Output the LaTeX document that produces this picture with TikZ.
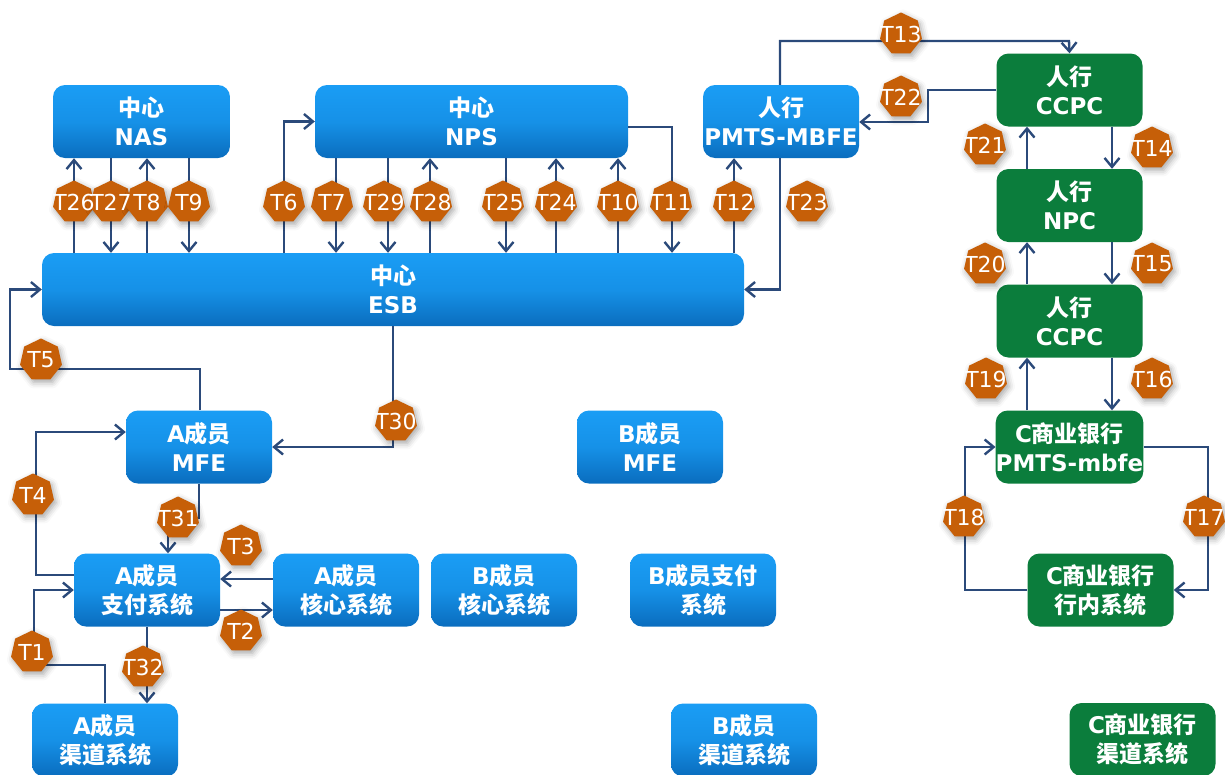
\documentclass[tikz,border=0pt]{standalone}
\usepackage{fontspec}
\usepackage{xcolor}
\usetikzlibrary{arrows.meta,shapes.geometric,shadows.blur}
\setmainfont{DejaVu Sans}
\newfontfamily\cjk{Noto Sans CJK SC Bold}
\newcommand{\zh}[1]{{\cjk #1}}
\definecolor{linecol}{HTML}{2B4A7A}
\definecolor{heptcol}{HTML}{C65F08}
\definecolor{boxtop}{HTML}{1A9DF5}
\definecolor{boxbot}{HTML}{0A6DBE}
\definecolor{boxgreen}{HTML}{0B7D3C}
\tikzset{
  basebox/.style={rounded corners=12pt,minimum width=146pt,minimum height=73pt,inner sep=0pt,
    align=center,text=white,font=\fontsize{23}{29}\selectfont\bfseries},
  bluebox/.style={basebox,top color=boxtop,bottom color=boxbot,middle color=boxtop!75!boxbot},
  greenbox/.style={basebox,fill=boxgreen},
  flow/.style={draw=linecol,line width=2.4pt,->,>={Straight Barb[length=9pt,width=15pt]}},
  hept/.style={regular polygon,regular polygon sides=7,minimum size=43pt,inner sep=0pt,fill=heptcol,
    blur shadow={shadow xshift=2pt,shadow yshift=-3pt,shadow blur radius=6pt,shadow opacity=35}},
  hepttext/.style={inner sep=0pt,text=white,font=\fontsize{22}{22}\selectfont}
}

\begin{document}
\begin{tikzpicture}[x=1pt,y=-1pt]
\useasboundingbox (0,0) rectangle (1225,774);

\node[bluebox,minimum width=177pt] (nas) at (141.5,121.5) {\zh{中心}\\NAS};
\node[bluebox,minimum width=313pt] (nps) at (471.5,121.5) {\zh{中心}\\NPS};
\node[bluebox,minimum width=156pt] (pmts) at (781,121.5) {\zh{人行}\\PMTS-MBFE};
\node[bluebox,minimum width=702pt] (esb) at (393,289.5) {\zh{中心}\\ESB};
\node[bluebox] (amfe) at (199,447) {A\zh{成员}\\MFE};
\node[bluebox] (bmfe) at (650,447) {B\zh{成员}\\MFE};
\node[bluebox] (apay) at (147,590) {A\zh{成员}\\\zh{支付系统}};
\node[bluebox] (acore) at (346,590) {A\zh{成员}\\\zh{核心系统}};
\node[bluebox] (bcore) at (504,590) {B\zh{成员}\\\zh{核心系统}};
\node[bluebox] (bpay) at (703,590) {B\zh{成员支付}\\\zh{系统}};
\node[bluebox] (achan) at (105,740) {A\zh{成员}\\\zh{渠道系统}};
\node[bluebox] (bchan) at (744,740) {B\zh{成员}\\\zh{渠道系统}};
\node[greenbox] (ccpca) at (1069.5,90) {\zh{人行}\\CCPC};
\node[greenbox] (npc) at (1069.5,205.5) {\zh{人行}\\NPC};
\node[greenbox] (ccpcb) at (1069.5,321) {\zh{人行}\\CCPC};
\node[greenbox] (cmbfe) at (1069.5,447) {C\zh{商业银行}\\PMTS-mbfe};
\node[greenbox] (cin) at (1100.5,590) {C\zh{商业银行}\\\zh{行内系统}};
\node[greenbox] (cchan) at (1142.5,739.5) {C\zh{商业银行}\\\zh{渠道系统}};

\foreach \x/\a/\b in {74/esb.north/nas.south,111/nas.south/esb.north,147/esb.north/nas.south,189/nas.south/esb.north,
  336/nps.south/esb.north,388/nps.south/esb.north,430/esb.north/nps.south,506/nps.south/esb.north,
  556/esb.north/nps.south,618/esb.north/nps.south,734/esb.north/pmts.south,
  1027/npc.north/ccpca.south,1112/ccpca.south/npc.north,1027/ccpcb.north/npc.south,1112/npc.south/ccpcb.north,
  1027/cmbfe.north/ccpcb.south,1112/ccpcb.south/cmbfe.north,147/apay.south/achan.north}
  \draw[flow] (\x,0 |- \a) -- (\x,0 |- \b);

\draw[flow] (284,0 |- esb.north) |- (nps.west);
\draw[flow] (628,127) -| (672,0 |- esb.north);
\draw[flow] (780,0 |- pmts.south) |- (esb.east);
\draw[flow] (780,0 |- pmts.north) |- (1069,41) -- (ccpca.north);
\draw[flow] (ccpca.west) -| (928,122) -- (pmts.east |- 0,122);
\draw[flow] (cmbfe.east) -| (1208,590) -- (cin.east);
\draw[flow] (cin.west) -| (965,447) -- (cmbfe.west);
\draw[flow] (200,0 |- amfe.north) |- (10,369) |- (esb.west);
\draw[flow] (393,0 |- esb.south) |- (amfe.east);
\draw[flow] (apay.west |- 0,575) -| (36,432) -- (amfe.west |- 0,432);
\draw[flow] (amfe.south) |- (168,518) -- (168,0 |- apay.north);
\draw[flow] (acore.west |- 0,579) -- (apay.east |- 0,579);
\draw[flow] (apay.east |- 0,610) -- (acore.west |- 0,610);
\draw[flow] (105,0 |- achan.north) |- (34,665) |- (apay.west);

\foreach \n/\x/\y in {T26/74/202,T27/111/202,T8/147/202,T9/189/202,T6/284/202,T7/332/202,T29/384/202,T28/431/202,
  T25/503/202,T24/556/202,T10/618/202,T11/671/202,T12/734/202,T23/807/202,T13/901/34,T22/901/97,
  T21/985/145,T14/1152/148,T20/985/264,T15/1152/264,T19/986/379,T16/1152/379,T17/1204/517,T18/964/517,
  T5/41/360,T30/396/421,T4/33/495,T31/178/518,T3/241/546,T2/241/631,T1/32/652,T32/143/667}
  \node[hept] (\n) at (\x,\y) {};
\foreach \n in {T1,T2,T3,T4,T5,T6,T7,T8,T9,T10,T11,T12,T13,T14,T15,T16,T17,T18,T19,T20,T21,T22,T23,T24,T25,T26,T27,T28,T29,T30,T31,T32}
  \node[hepttext] (\n-text) at (\n) {\n};
\end{tikzpicture}
\end{document}
